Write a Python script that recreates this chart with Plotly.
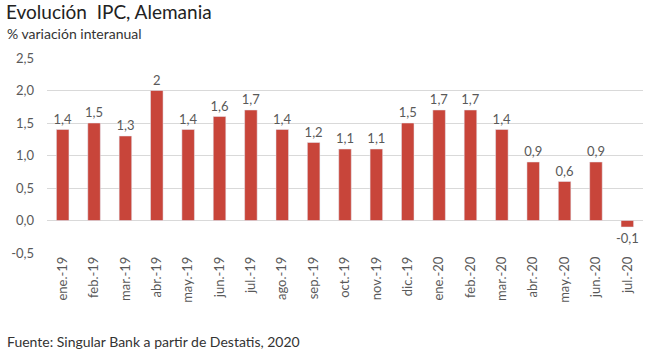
import plotly.graph_objects as go

categories = ["ene.-19", "feb.-19", "mar.-19", "abr.-19", "may.-19", "jun.-19", "jul.-19",
              "ago.-19", "sep.-19", "oct.-19", "nov.-19", "dic.-19", "ene.-20", "feb.-20",
              "mar.-20", "abr.-20", "may.-20", "jun.-20", "jul.-20"]
values = [1.4, 1.5, 1.3, 2.0, 1.4, 1.6, 1.7, 1.4, 1.2, 1.1, 1.1, 1.5, 1.7, 1.7, 1.4, 0.9, 0.6, 0.9, -0.1]
labels = ["1,4", "1,5", "1,3", "2", "1,4", "1,6", "1,7", "1,4", "1,2", "1,1", "1,1", "1,5", "1,7",
          "1,7", "1,4", "0,9", "0,6", "0,9", "-0,1"]
y_ticks = [-0.5, 0.0, 0.5, 1.0, 1.5, 2.0, 2.5]
y_ticktext = ["-0,5", "0,0", "0,5", "1,0", "1,5", "2,0", "2,5"]

FONT = "Lato"
GRAY = "#595959"

fig = go.Figure(go.Bar(
    x=categories, y=values, marker_color="#C8453A", width=0.4,
    text=labels, textposition="outside", cliponaxis=False, constraintext="none",
    textfont=dict(family=FONT, size=13, color=GRAY),
))

fig.update_layout(
    width=650, height=353,
    margin=dict(l=47, r=7, t=58, b=100),
    paper_bgcolor="white", plot_bgcolor="white",
    showlegend=False,
    font=dict(family=FONT, color=GRAY),
    xaxis=dict(type="category", tickangle=-90, tickfont=dict(size=13, color=GRAY),
               showgrid=False, showline=False, ticks="", range=[-0.5, 18.5]),
    yaxis=dict(range=[-0.5, 2.5], tickvals=y_ticks, ticktext=y_ticktext,
               tickfont=dict(size=13, color=GRAY), showgrid=True, gridcolor="#D9D9D9",
               zeroline=False, showline=False, ticks="", ticklabelstandoff=12),
)
fig.add_annotation(text="Evolución  IPC, Alemania", xref="paper", yref="paper", x=0, y=1,
                   xanchor="left", yanchor="top", xshift=-43, yshift=60, showarrow=False,
                   font=dict(family=FONT, size=19, color="#222222"))
fig.add_annotation(text="% variación interanual", xref="paper", yref="paper", x=0, y=1,
                   xanchor="left", yanchor="top", xshift=-42, yshift=35, showarrow=False,
                   font=dict(family=FONT, size=14, color="#333333"))
fig.add_annotation(text="Fuente: Singular Bank a partir de Destatis, 2020", xref="paper", yref="paper",
                   x=0, y=0, xanchor="left", yanchor="top", xshift=-42, yshift=-78, showarrow=False,
                   font=dict(family=FONT, size=14, color="#333333"))

fig.write_html("out.html")
